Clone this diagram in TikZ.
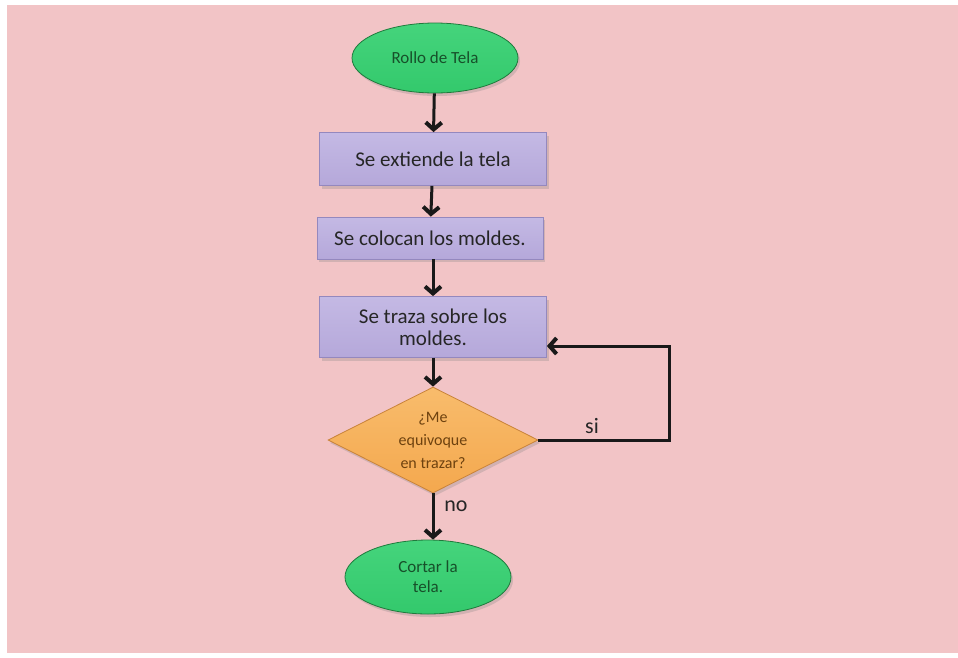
\documentclass[tikz,border=0pt]{standalone}
\usepackage{fontspec}
\setmainfont{Carlito}
\usetikzlibrary{arrows.meta,shapes.geometric,shadows}

\definecolor{pagebg}{HTML}{F2C4C6}
\definecolor{termfill}{HTML}{33C96C}
\definecolor{termtop}{HTML}{45D47C}
\definecolor{termline}{HTML}{1F7A3C}
\definecolor{termtext}{HTML}{17502A}
\definecolor{procfill}{HTML}{B5A8DA}
\definecolor{proctop}{HTML}{C4B9E4}
\definecolor{procline}{HTML}{9488BE}
\definecolor{decfill}{HTML}{F4A84E}
\definecolor{dectop}{HTML}{F8BC6C}
\definecolor{decline}{HTML}{C9833A}
\definecolor{dectext}{HTML}{6E420F}

\tikzset{
  x=1pt, y=-1pt,
  softshadow/.style={drop shadow={opacity=0.28, shadow xshift=2pt, shadow yshift=-3pt}},
  terminal/.style={ellipse, draw=termline, line width=0.8pt,
    top color=termtop, bottom color=termfill, softshadow,
    text=termtext, align=center, inner sep=0pt,
    font=\fontsize{17}{20}\selectfont},
  process/.style={rectangle, draw=procline, line width=0.8pt,
    top color=proctop, bottom color=procfill, softshadow,
    text=black!85, align=center, inner sep=0pt,
    font=\fontsize{21}{22}\selectfont},
  decision/.style={diamond, shape aspect=2, draw=decline, line width=0.8pt,
    top color=dectop, bottom color=decfill, softshadow,
    text=dectext, align=center, inner sep=0pt,
    font=\fontsize{16}{23}\selectfont},
  flow/.style={line width=3pt, draw=black!90,
    -{Straight Barb[length=7pt,width=16pt,line width=4pt]}},
  branch/.style={font=\fontsize{22}{24}\selectfont, text=black!85},
}

\begin{document}
\begin{tikzpicture}
  % page and background panel
  \useasboundingbox (0,0) rectangle (958,657);
  \fill[white] (0,0) rectangle (958,657);
  \fill[pagebg] (7,5) rectangle (958,653);

  % flow chart shapes
  \node[terminal, minimum width=166pt, minimum height=70pt] (start) at (435,58) {Rollo de Tela};
  \node[process, minimum width=227pt, minimum height=53pt] (p1) at (433,159) {Se extiende la tela};
  \node[process, minimum width=226pt, minimum height=42pt] (p2) at (430,238) {Se colocan los moldes.};
  \node[process, minimum width=227pt, minimum height=61pt] (p3) at (433,327) {Se traza sobre los\\moldes.};
  \node[decision, minimum width=210pt, minimum height=106pt] (dec) at (433,440) {¿Me\\equivoque\\en trazar?};
  \node[terminal, minimum width=166pt, minimum height=74pt] (stop) at (428,577) {Cortar la\\tela.};

  % main flow
  \draw[flow] (start) -- (p1);
  \draw[flow] (p1) -- (p2);
  \draw[flow] ([xshift=3pt]p2.south) -- ([xshift=0pt]p3.north);
  \draw[flow] (p3) -- (dec);
  \draw[flow] (dec.south) -- (stop.north -| dec.south);

  % loop back when tracing went wrong
  \coordinate (loopdown) at (669,442);
  \coordinate (loopup) at (669,346);
  \draw[flow] (dec.east) -- (dec.east -| loopdown) -- (loopup) -- (loopup -| p3.east);

  % branch labels
  \node[branch] (lsi) at (592,426) {si};
  \node[branch] (lno) at (456,506) {no};
\end{tikzpicture}
\end{document}
